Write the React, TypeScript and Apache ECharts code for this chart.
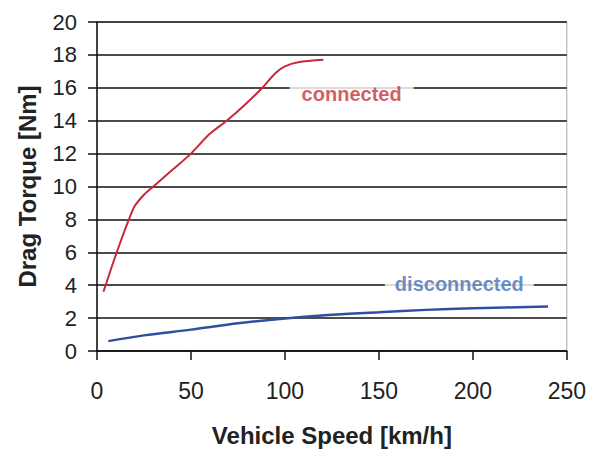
import React, { useEffect, useRef } from "react";
import * as echarts from "echarts";

const connectedSpeed = [3.4, 4.6, 7.5, 10.5, 14, 17, 20, 25, 30, 40, 50, 60, 69, 78, 88, 95, 100, 107, 120.5];
const connectedTorque = [3.6, 4.0, 5.0, 6.0, 7.1, 8.0, 8.8, 9.5, 10.0, 11.0, 12.0, 13.2, 14.0, 14.9, 16.0, 16.9, 17.3, 17.55, 17.7];

const disconnectedSpeed = [6, 25, 50, 75, 100, 125, 150, 175, 200, 240];
const disconnectedTorque = [0.6, 0.95, 1.3, 1.68, 1.98, 2.2, 2.35, 2.5, 2.6, 2.7];

const labelTexts = ["connected", "disconnected"];
const labelSpeed = [135.5, 192.8];
const labelTorque = [15.65, 4.05];

const xTicks = { min: 0, max: 250, interval: 50 };
const yTicks = { min: 0, max: 20, interval: 2 };

const FONT = "'Liberation Sans', Arial, sans-serif";

export default function App() {
  const ref = useRef<HTMLDivElement>(null);
  useEffect(() => {
    if (!ref.current) return;
    const chart = echarts.init(ref.current, undefined, { renderer: "svg" });
    const pair = (xs: number[], ys: number[]) => xs.map((x, i) => [x, ys[i]]);
    chart.setOption({
      animation: false,
      backgroundColor: "#ffffff",
      grid: {
        left: 97,
        right: 22,
        top: 22,
        bottom: 101,
        show: true,
        borderColor: "#aaaaaa",
        borderWidth: 1,
        backgroundColor: "transparent",
      },
      xAxis: {
        type: "value",
        min: xTicks.min,
        max: xTicks.max,
        interval: xTicks.interval,
        name: "Vehicle Speed [km/h]",
        nameLocation: "middle",
        nameGap: 72,
        nameTextStyle: { fontFamily: FONT, fontSize: 24, fontWeight: "bold", color: "#222" },
        axisLine: { show: true, lineStyle: { color: "#111", width: 1.5 } },
        axisTick: { show: true, length: 9, lineStyle: { color: "#111", width: 1.5 } },
        axisLabel: { fontFamily: FONT, fontSize: 23, color: "#222", margin: 28 },
        splitLine: { show: false },
      },
      yAxis: {
        type: "value",
        min: yTicks.min,
        max: yTicks.max,
        interval: yTicks.interval,
        name: "Drag Torque [Nm]",
        nameLocation: "middle",
        nameGap: 58,
        nameTextStyle: { fontFamily: FONT, fontSize: 24, fontWeight: "bold", color: "#222" },
        axisLine: { show: true, lineStyle: { color: "#111", width: 1.5 } },
        axisTick: { show: true, length: 9, lineStyle: { color: "#111", width: 1.5 } },
        axisLabel: { fontFamily: FONT, fontSize: 22, color: "#222", margin: 20 },
        splitLine: { show: true, lineStyle: { color: "#111", width: 1.5 } },
      },
      series: [
        {
          type: "line",
          name: "connected",
          data: pair(connectedSpeed, connectedTorque),
          smooth: 0.3,
          showSymbol: false,
          lineStyle: { color: "#c8283a", width: 2 },
          z: 3,
        },
        {
          type: "line",
          name: "disconnected",
          data: pair(disconnectedSpeed, disconnectedTorque),
          smooth: 0.3,
          showSymbol: false,
          lineStyle: { color: "#2f4f9f", width: 2.5 },
          z: 3,
        },
        {
          type: "scatter",
          symbolSize: 0,
          z: 4,
          silent: true,
          data: labelTexts.map((t, i) => ({
            value: [labelSpeed[i], labelTorque[i]],
            label: {
              show: true,
              position: "inside",
              formatter: t,
              fontFamily: FONT,
              fontSize: 20,
              fontWeight: "bold",
              color: i === 0 ? "#c8323c" : "#4670b0",
              backgroundColor: "#ffffff",
              padding: i === 0 ? [6, 12, 6, 12] : [6, 10, 6, 10],
            },
          })),
        },
      ],
    });
    return () => chart.dispose();
  }, []);
  return (
    <div
      ref={ref}
      style={{ position: "fixed", left: 0, top: 0, width: 589, height: 452, background: "#fff" }}
    />
  );
}
